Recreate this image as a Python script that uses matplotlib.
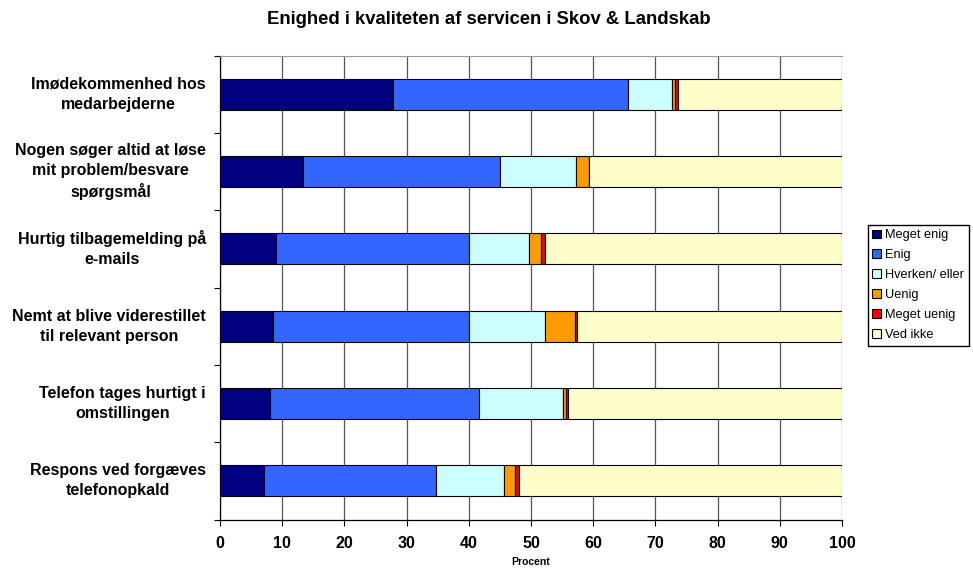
import numpy as np
import matplotlib.pyplot as plt
from matplotlib.patches import Patch

plt.rcParams['font.family'] = ['Liberation Sans', 'DejaVu Sans']

#data
categories = ['Imødekommenhed hos\nmedarbejderne',
              'Nogen søger altid at løse\nmit problem/besvare\nspørgsmål',
              'Hurtig tilbagemelding på\ne-mails',
              'Nemt at blive viderestillet\ntil relevant person',
              'Telefon tages hurtigt i\nomstillingen',
              'Respons ved forgæves\ntelefonopkald']
series = ['Meget enig', 'Enig', 'Hverken/ eller', 'Uenig', 'Meget uenig', 'Ved ikke']
meget_enig = [27.8, 13.3, 9.0, 8.5, 8.1, 7.1]
enig = [37.8, 31.7, 31.0, 31.6, 33.5, 27.6]
hverken = [7.1, 12.2, 9.6, 12.2, 13.6, 11.0]
uenig = [0.5, 2.1, 2.0, 4.8, 0.4, 1.7]
meget_uenig = [0.4, 0.0, 0.7, 0.3, 0.4, 0.7]
ved_ikke = [26.4, 40.7, 47.7, 42.6, 44.0, 51.9]
colors = ['#000080', '#3366FF', '#CCFFFF', '#FF9900', '#FF0000', '#FFFFCC']

values = [meget_enig, enig, hverken, uenig, meget_uenig, ved_ikke]

fig = plt.figure(figsize=(9.73, 5.75), dpi=100)
ax = fig.add_axes([220/973, (575-519.5)/575, 622/973, 464/575])

y = np.arange(len(categories))[::-1]
left = np.zeros(len(categories))
for vals, col, name in zip(values, colors, series):
    vals = np.array(vals)
    ax.barh(y, vals, left=left, height=0.4, color=col, edgecolor='black',
            linewidth=0.8, label=name, zorder=3)
    left += vals

ax.set_xlim(0, 100)
ax.set_ylim(-0.5, len(categories) - 0.5)
ax.set_xticks(np.arange(0, 101, 10))
ax.set_xticklabels([str(v) for v in range(0, 101, 10)], fontsize=11.5, fontweight='bold')
ax.tick_params(axis='x', length=4, width=0.8, pad=8)

#etykiety kategorii
ax.set_yticks(np.arange(-0.5, len(categories), 1.0))
ax.set_yticklabels([])
ax.tick_params(axis='y', length=4, width=0.8)
for yi, cat in zip(y, categories):
    ax.annotate(cat, xy=(0, yi), xycoords=('axes fraction', 'data'),
                xytext=(-10, 0), textcoords='offset points', ha='right',
                va='center', multialignment='center', fontsize=11.5,
                fontweight='bold', linespacing=1.4)

ax.grid(axis='x', color='#555555', linewidth=0.9, zorder=0)
ax.spines['right'].set_visible(False)
ax.spines['top'].set_color('#999999')
ax.spines['left'].set_linewidth(0.9)
ax.spines['bottom'].set_linewidth(0.9)

ax.set_xlabel('Procent', fontsize=7.5, fontweight='bold', labelpad=4)
fig.text(489/973, 1 - 20/575, 'Enighed i kvaliteten af servicen i Skov & Landskab',
         ha='center', va='center', fontsize=13.3, fontweight='bold')

handles = [Patch(facecolor=c, edgecolor='black', linewidth=0.8) for c in colors]
fig.legend(handles, series, loc='upper left', bbox_to_anchor=(868/973, 1 - 225/575),
           fontsize=9.2, frameon=True, fancybox=False, edgecolor='black',
           framealpha=1, handlelength=0.7, handleheight=0.7, handletextpad=0.3,
           labelspacing=0.62, borderpad=0.35, borderaxespad=0)

plt.savefig('out.png', dpi=100)
